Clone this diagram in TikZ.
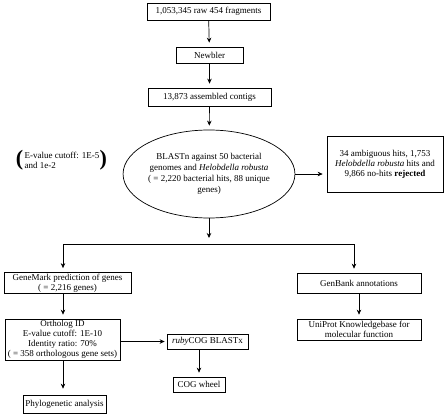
\documentclass[tikz,border=0pt]{standalone}
\usepackage{fontspec}
\setmainfont{Liberation Serif}
\usepackage{xcolor}
\usepackage{tikz}
\usetikzlibrary{shapes.geometric}
\usetikzlibrary{arrows.meta, positioning}

\begin{document}
\begin{tikzpicture}[
            x=1pt, y=-1pt,
            font=\fontsize{9}{10}\selectfont,
            box/.style={rectangle, draw, line width=0.7pt, align=center, inner sep=1pt},
            oval/.style={ellipse, draw, line width=0.7pt, align=center, inner sep=0pt},
            paren/.style={font=\fontsize{22}{22}\selectfont\bfseries, inner sep=0pt},
            arrow/.style={-{Stealth[length=5pt, width=4.5pt]}, line width=0.7pt, shorten >=4pt},
            link/.style={line width=0.7pt}
        ]
        \useasboundingbox (0,0) rectangle (446,417);

        % Main column
        \node[box, minimum width=123pt, minimum height=17pt] (raw) at (208.5, 11.5) {1,053,345 raw 454 fragments};
        \node[box, minimum width=67pt, minimum height=16pt] (newbler) at (209.5, 55) {Newbler};
        \node[box, minimum width=123pt, minimum height=18pt] (contigs) at (209.5, 97) {13,873 assembled contigs};
        \node[oval, minimum width=162pt, minimum height=88pt, font=\fontsize{9}{10.8}\selectfont] (blast) at (209, 174)
            {BLASTn against 50 bacterial\\genomes and \textit{Helobdella robusta}\\( = 2,220 bacterial hits, 88 unique\\genes)};
        \node[box, minimum width=116pt, minimum height=56pt] (reject) at (385, 164)
            {34 ambiguous hits, 1,753\\\textit{Helobdella robusta} hits and\\9,866 no-hits \textbf{rejected}};

        % Cutoff note
        \node[align=left, inner sep=0pt] (cutoff) at (62, 160) {E-value cutoff: 1E-5\\and 1e-2};
        \node[paren, left=1pt of cutoff] (lparen) {(};
        \node[paren, right=0pt of cutoff] (rparen) {)};

        % Split
        \coordinate (split) at (209, 244);
        \coordinate (splitL) at (63, 244);
        \coordinate (splitR) at (354, 244);

        % Left branch
        \node[box, minimum width=127pt, minimum height=21pt] (genemark) at (67.5, 283)
            {GeneMark prediction of genes\\( = 2,216 genes)};
        \node[box, minimum width=115pt, minimum height=41pt] (ortholog) at (62.5, 339.5)
            {Ortholog ID\\E-value cutoff: 1E-10\\Identity ratio: 70\%\\( = 358 orthologous gene sets)};
        \node[box, minimum width=83pt, minimum height=18pt] (phylo) at (64.5, 404) {Phylogenetic analysis};
        \node[box, minimum width=81pt, minimum height=15pt] (ruby) at (207.5, 341.5) {\textit{ruby}COG BLASTx};
        \node[box, minimum width=52pt, minimum height=15pt] (cog) at (199, 384.5) {COG wheel};

        % Right branch
        \node[box, minimum width=124pt, minimum height=20pt] (genbank) at (359, 283) {GenBank annotations};
        \node[box, minimum width=124pt, minimum height=21pt] (uniprot) at (359, 329.5)
            {UniProt Knowledgebase for\\molecular function};

        % Arrows
        \draw[arrow] (raw) -- (newbler);
        \draw[arrow] (newbler) -- (contigs);
        \draw[arrow] (contigs) -- (blast);
        \draw[arrow] (blast) -- (blast.east -| reject.west);
        \draw[arrow, shorten >=6pt] (blast) -- (split);
        \draw[link] (splitL) -- (splitR);
        \draw[arrow] (splitL) -- (splitL |- genemark.north);
        \draw[arrow] (splitR) -- (splitR |- genbank.north);

        \draw[arrow] (genemark.south -| splitL) -- (splitL |- ortholog.north);
        \draw[arrow, shorten >=6pt] (ortholog.south -| splitL) -- (splitL |- phylo.north);
        \draw[arrow, shorten >=2pt] (ortholog.east |- ruby) -- (ruby);
        \draw[arrow] (ruby.south -| cog) -- (cog);
        \draw[arrow] (genbank) -- (uniprot);

    \end{tikzpicture}
\end{document}
